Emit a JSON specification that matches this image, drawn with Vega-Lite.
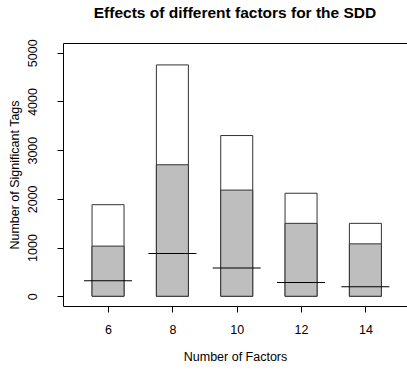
{
  "$schema": "https://vega.github.io/schema/vega-lite/v6.json",
  "width": 344,
  "height": 263,
  "autosize": "none",
  "padding": {"left": 63, "top": 43, "right": 0, "bottom": 64},
  "background": "white",
  "title": {
    "text": "Effects of different factors for the SDD",
    "font": "Liberation Sans",
    "fontSize": 15.5,
    "fontWeight": "bold",
    "color": "black",
    "anchor": "middle",
    "offset": 17
  },
  "config": {
    "view": {"stroke": null},
    "axis": {
      "domain": true,
      "domainColor": "black",
      "domainWidth": 1,
      "grid": false,
      "tickColor": "black",
      "tickSize": 6,
      "labelFont": "Liberation Sans",
      "labelFontSize": 12.5,
      "labelColor": "black",
      "titleFont": "Liberation Sans",
      "titleFontSize": 12.5,
      "titleFontWeight": "normal",
      "titleColor": "black"
    }
  },
  "data": {
    "values": [
      {"factors": 6, "total": 1880, "sig": 1030, "line": 316},
      {"factors": 8, "total": 4750, "sig": 2700, "line": 880},
      {"factors": 10, "total": 3300, "sig": 2180, "line": 578},
      {"factors": 12, "total": 2115, "sig": 1497, "line": 281},
      {"factors": 14, "total": 1497, "sig": 1076, "line": 195}
    ]
  },
  "resolve": {"axis": {"x": "independent", "y": "independent"}},
  "layer": [
    {
      "mark": {"type": "bar", "fill": "white", "stroke": "#333", "strokeWidth": 1, "size": 32},
      "encoding": {
        "x": {
          "field": "factors",
          "type": "quantitative",
          "scale": {"domain": [4.6, 15.293], "nice": false, "zero": false, "padding": 0},
          "axis": {
            "title": "Number of Factors",
            "values": [6, 8, 10, 12, 14],
            "labelPadding": 11,
            "titlePadding": 15
          }
        },
        "y": {
          "field": "total",
          "type": "quantitative",
          "scale": {"domain": [-200, 5200], "nice": false, "zero": false, "padding": 0},
          "axis": {
            "title": "Number of Significant Tags",
            "values": [0, 1000, 2000, 3000, 4000, 5000],
            "format": "d",
            "labelAngle": -90,
            "labelAlign": "center",
            "labelBaseline": "bottom",
            "labelPadding": 18,
            "titlePadding": 5
          }
        },
        "y2": {"datum": 0}
      }
    },
    {
      "mark": {"type": "bar", "fill": "#bebebe", "stroke": "#333", "strokeWidth": 1, "size": 32},
      "encoding": {
        "x": {
          "field": "factors",
          "type": "quantitative",
          "axis": {"orient": "top", "title": null, "labels": false, "ticks": false, "domain": true}
        },
        "y": {"field": "sig", "type": "quantitative", "axis": null},
        "y2": {"datum": 0}
      }
    },
    {
      "mark": {"type": "tick", "orient": "horizontal", "size": 48, "thickness": 1, "color": "black", "opacity": 1},
      "encoding": {
        "x": {"field": "factors", "type": "quantitative", "axis": null},
        "y": {"field": "line", "type": "quantitative", "axis": null}
      }
    }
  ]
}
